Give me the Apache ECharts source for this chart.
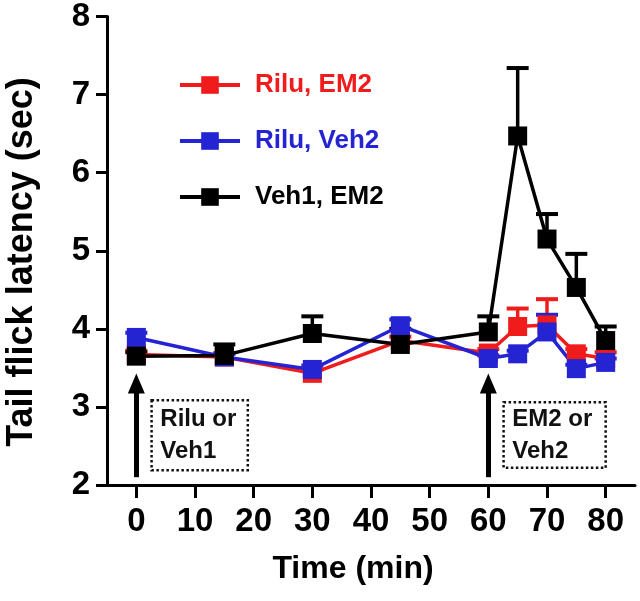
<!DOCTYPE html>
<html>
<head>
<meta charset="utf-8">
<script src="https://cdn.jsdelivr.net/npm/echarts@6/dist/echarts.min.js"></script>
<style>
html,body{margin:0;padding:0;background:#fff;}
#c{width:640px;height:601px;}
</style>
</head>
<body>
<div id="c"></div>
<script>
// Time points (min)
const times = [0, 15, 30, 45, 60, 65, 70, 75, 80];
const xTicks = [0, 10, 20, 30, 40, 50, 60, 70, 80];
const yTicks = [2, 3, 4, 5, 6, 7, 8];
const seriesNames = ['Rilu, EM2', 'Rilu, Veh2', 'Veh1, EM2'];
// Means
const riluEM2 = [3.67, 3.64, 3.43, 3.85, 3.69, 4.03, 4.05, 3.68, 3.62];
const riluVeh2 = [3.89, 3.64, 3.48, 4.04, 3.62, 3.68, 3.96, 3.49, 3.57];
const veh1EM2 = [3.65, 3.66, 3.94, 3.80, 3.96, 6.47, 5.15, 4.53, 3.85];
// Upper SEM
const riluEM2Err = [0.05, 0.05, 0.05, 0.05, 0.05, 0.23, 0.33, 0.06, 0.08];
const riluVeh2Err = [0.06, 0.04, 0.05, 0.08, 0.04, 0.04, 0.22, 0.05, 0.05];
const veh1EM2Err = [0.05, 0.14, 0.22, 0.20, 0.20, 0.87, 0.32, 0.43, 0.18];

const COLORS = ['#f01c1c', '#2424d2', '#000000'];
const SANS = '"Liberation Sans", Arial, Helvetica, sans-serif';

const chart = echarts.init(document.getElementById('c'), null, {renderer: 'canvas'});

function lineSeries(name, vals, color, extra) {
  return Object.assign({
    name: name,
    type: 'line',
    data: times.map((t, i) => [t, vals[i]]),
    symbol: 'rect',
    symbolSize: 19,
    itemStyle: {color: color},
    lineStyle: {color: color, width: 3.5},
    emphasis: {disabled: true},
    animation: false,
    z: 3
  }, extra || {});
}

function errSeries(vals, errs, color) {
  return {
    type: 'custom',
    data: times.map((t, i) => [t, vals[i], vals[i] + errs[i]]),
    renderItem: function (params, api) {
      const p0 = api.coord([api.value(0), api.value(1)]);
      const p1 = api.coord([api.value(0), api.value(2)]);
      const hw = 11;
      return {
        type: 'group',
        children: [
          {type: 'line', shape: {x1: p0[0], y1: p0[1], x2: p1[0], y2: p1[1]}, style: {stroke: color, lineWidth: 3.5}},
          {type: 'line', shape: {x1: p1[0] - hw, y1: p1[1], x2: p1[0] + hw, y2: p1[1]}, style: {stroke: color, lineWidth: 4}}
        ]
      };
    },
    encode: {x: 0, y: [1, 2]},
    silent: true,
    animation: false,
    z: 3
  };
}

const boxStyle = {color: 'rgba(0,0,0,0)', borderColor: '#111', borderWidth: 2.5, borderType: 'dotted'};
const boxLabel = {
  show: true, position: 'insideLeft', distance: 10,
  fontFamily: SANS, fontWeight: 'bold', fontSize: 24, lineHeight: 32, color: '#111', align: 'left'
};

const option = {
  backgroundColor: '#fff',
  animation: false,
  grid: {left: 107, right: 5, top: 15, bottom: 116, containLabel: false},
  legend: {
    orient: 'vertical',
    left: 173,
    top: 67,
    itemWidth: 60,
    itemHeight: 22,
    itemGap: 30,
    selectedMode: false,
    lineStyle: {width: 4},
    textStyle: {fontFamily: SANS, fontWeight: 'bold', fontSize: 26, padding: [0, 0, 0, 10]},
    data: [
      {name: seriesNames[0], textStyle: {color: COLORS[0]}},
      {name: seriesNames[1], textStyle: {color: COLORS[1]}},
      {name: seriesNames[2], textStyle: {color: COLORS[2]}}
    ]
  },
  xAxis: {
    type: 'value',
    min: -5,
    max: 85,
    axisLine: {show: true, onZero: false, lineStyle: {color: '#000', width: 3}},
    axisTick: {show: true, length: 13, lineStyle: {color: '#000', width: 3}, customValues: xTicks},
    axisLabel: {customValues: xTicks, margin: 20, color: '#000', fontFamily: SANS, fontWeight: 'bold', fontSize: 33},
    splitLine: {show: false}
  },
  yAxis: {
    type: 'value',
    min: 2,
    max: 8,
    interval: 1,
    axisLine: {show: true, onZero: false, lineStyle: {color: '#000', width: 3}},
    axisTick: {show: true, length: 11, lineStyle: {color: '#000', width: 3}},
    axisLabel: {margin: 17, color: '#000', fontFamily: SANS, fontWeight: 'bold', fontSize: 33},
    splitLine: {show: false}
  },
  graphic: [
    {type: 'text', x: 22, y: 262, rotation: Math.PI / 2,
      style: {text: 'Tail flick latency (sec)', fill: '#000', font: 'bold 36px ' + SANS, align: 'center', verticalAlign: 'middle'}},
    {type: 'text', x: 353, y: 569,
      style: {text: 'Time (min)', fill: '#000', font: 'bold 32px ' + SANS, align: 'center', verticalAlign: 'middle'}}
  ],
  series: [
    errSeries(riluEM2, riluEM2Err, COLORS[0]),
    lineSeries(seriesNames[0], riluEM2, COLORS[0], {
      markLine: {
        silent: true, symbol: ['none', 'triangle'], symbolSize: [17, 20],
        label: {show: false},
        lineStyle: {color: '#000', width: 5, type: 'solid'},
        data: [
          [{coord: [0, 2.1]}, {coord: [0, 3.3]}],
          [{coord: [60, 2.1]}, {coord: [60, 3.3]}]
        ]
      },
      markArea: {
        silent: true,
        itemStyle: boxStyle,
        label: boxLabel,
        data: [
          [{name: 'Rilu or\nVeh1', coord: [2.6, 3.085]}, {coord: [19.0, 2.19]}],
          [{name: 'EM2 or\nVeh2', coord: [62.6, 3.06]}, {coord: [80.0, 2.22]}]
        ]
      }
    }),
    errSeries(riluVeh2, riluVeh2Err, COLORS[1]),
    lineSeries(seriesNames[1], riluVeh2, COLORS[1]),
    errSeries(veh1EM2, veh1EM2Err, COLORS[2]),
    lineSeries(seriesNames[2], veh1EM2, COLORS[2])
  ]
};
chart.setOption(option);
</script>
</body>
</html>
